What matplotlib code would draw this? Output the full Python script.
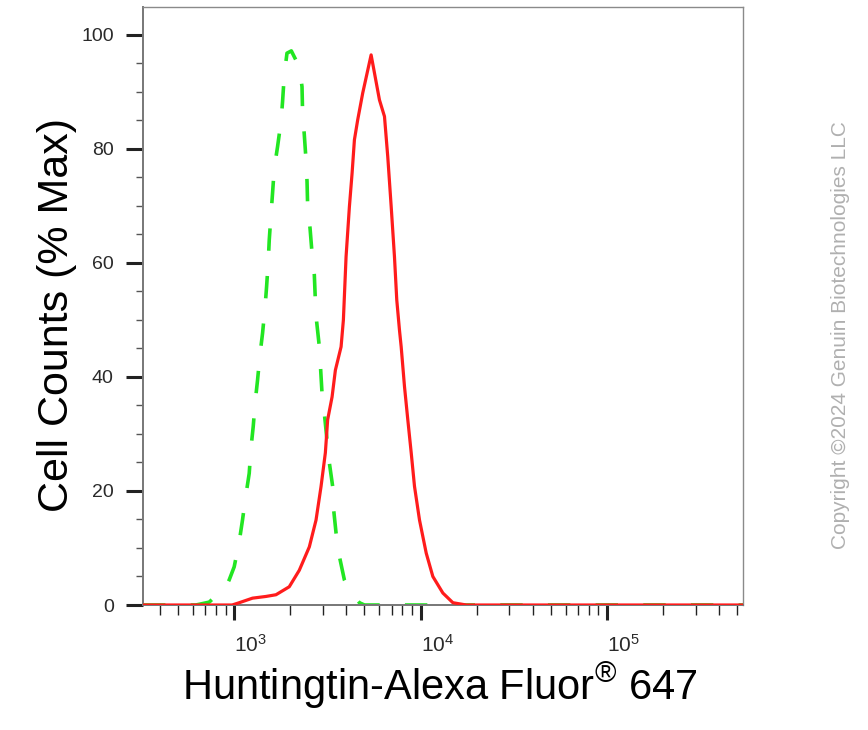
import numpy as np
import matplotlib
matplotlib.use("Agg")
import matplotlib.pyplot as plt
from matplotlib.ticker import FixedLocator, LogLocator, NullFormatter

plt.rcParams['font.family'] = ['Liberation Sans', 'DejaVu Sans']
plt.rcParams['mathtext.default'] = 'regular'

# stained sample (red, solid)
red_x = [324, 650, 975, 1064, 1254, 1481, 1676, 1975, 2236, 2531, 2749, 2925,
         3085, 3174, 3352, 3492, 3747, 3855, 3985, 4153, 4294, 4418, 4601, 4895,
         5431, 6020, 6406, 6672, 6959, 7247, 7457, 7711, 7874, 8204, 8545, 8913,
         9284, 9876, 10730, 11645, 13180, 14920, 17610, 50000, 200000, 540000]
red_y = [0, 0, 0, 0.4, 1.2, 1.5, 1.8, 3.2, 6.1, 10.2, 14.9, 20.8,
         26.7, 32.5, 36.5, 41.2, 45.3, 50.0, 61.1, 69.9, 75.8, 81.6, 85.1, 89.8,
         96.5, 88.6, 85.7, 78.6, 69.9, 61.1, 53.5, 48.2, 45.3, 38.3, 32.5, 26.7,
         20.8, 14.9, 9.1, 5.0, 2.1, 0.4, 0, 0, 0, 0]

# isotype / unstained control (green, dashed)
green_x = [324, 623, 734, 902, 940, 1000, 1064, 1108, 1156, 1204, 1230, 1265,
           1297, 1335, 1375, 1420, 1463, 1492, 1523, 1542, 1575, 1606, 1641,
           1709, 1783, 1818, 1857, 1920, 2026, 2236, 2312, 2329, 2378, 2429,
           2460, 2479, 2553, 2617, 2692, 2726, 2770, 2864, 2961, 3047, 3174,
           3242, 3377, 3406, 3522, 3638, 3903, 4153, 4418, 4699, 5000, 50000,
           540000]
green_y = [0, 0, 0.5, 3.2, 4.4, 6.7, 11.1, 14.9, 19.3, 23.1, 27.5, 31.3,
           35.7, 39.5, 43.9, 47.7, 52.1, 55.8, 60.2, 64.0, 68.4, 72.2, 76.6,
           80.4, 84.8, 88.3, 93.0, 96.8, 97.2, 94.4, 90.9, 86.3, 82.5, 78.1,
           74.3, 69.9, 66.1, 61.7, 57.9, 53.5, 49.7, 45.3, 37.1, 33.6, 27.8,
           24.9, 20.8, 17.2, 12.6, 9.1, 4.4, 2.6, 1.5, 0.4, 0, 0,
           0]

x_major = [1e3, 1e4, 1e5]
x_major_labels = ['$10^{3}$', '$10^{4}$', '$10^{5}$']
y_major = [0, 20, 40, 60, 80, 100]

fig = plt.figure(figsize=(8.68, 7.30), dpi=100)
ax = fig.add_axes([143 / 868, 1 - 605 / 730, 600 / 868, 598 / 730])

ax.plot(green_x, green_y, color='#22e622', lw=2.6, dashes=(6.2, 7.0), zorder=2)
ax.plot(red_x, red_y, color='#ff1c1c', lw=2.3, zorder=3)

ax.set_xscale('log')
ax.set_xlim(324, 538000)
ax.set_ylim(0, 104.9)

ax.xaxis.set_major_locator(FixedLocator(x_major))
ax.set_xticklabels(x_major_labels, ha='left')
ax.xaxis.set_minor_locator(LogLocator(base=10, subs=np.arange(2, 10)))
ax.xaxis.set_minor_formatter(NullFormatter())

ax.set_yticks(y_major)
ax.set_yticks(np.arange(0, 105, 5), minor=True)

ax.tick_params(axis='x', which='major', length=11, width=2.2, color='#222222',
               labelsize=15, labelcolor='#2a2a2a', pad=10)
ax.tick_params(axis='x', which='minor', length=7, width=1.0, color='#222222')
ax.tick_params(axis='y', which='major', length=12, width=2.2, color='#222222',
               labelsize=14, labelcolor='#2a2a2a', pad=9)
ax.tick_params(axis='y', which='minor', length=5, width=1.0, color='#555555')

for side in ['left', 'bottom']:
    ax.spines[side].set_color('#777777')
    ax.spines[side].set_linewidth(1.4)
for side in ['top', 'right']:
    ax.spines[side].set_color('#8a8a8a')
    ax.spines[side].set_linewidth(1.0)

fig.text(57 / 868, 1 - 315 / 730, 'Cell Counts (% Max)', rotation=90,
         ha='center', va='center', fontsize=31, color='black')
fig.text(440 / 868, 1 - 686 / 730, 'Huntingtin-Alexa Fluor$^{®}$ 647',
         ha='center', va='center', fontsize=30, color='black')
fig.text(841 / 868, 1 - 335 / 730, 'Copyright ©2024 Genuin Biotechnologies LLC',
         rotation=90, ha='center', va='center', fontsize=15, color='#b0b0b0')

fig.savefig('out.png', dpi=100)
